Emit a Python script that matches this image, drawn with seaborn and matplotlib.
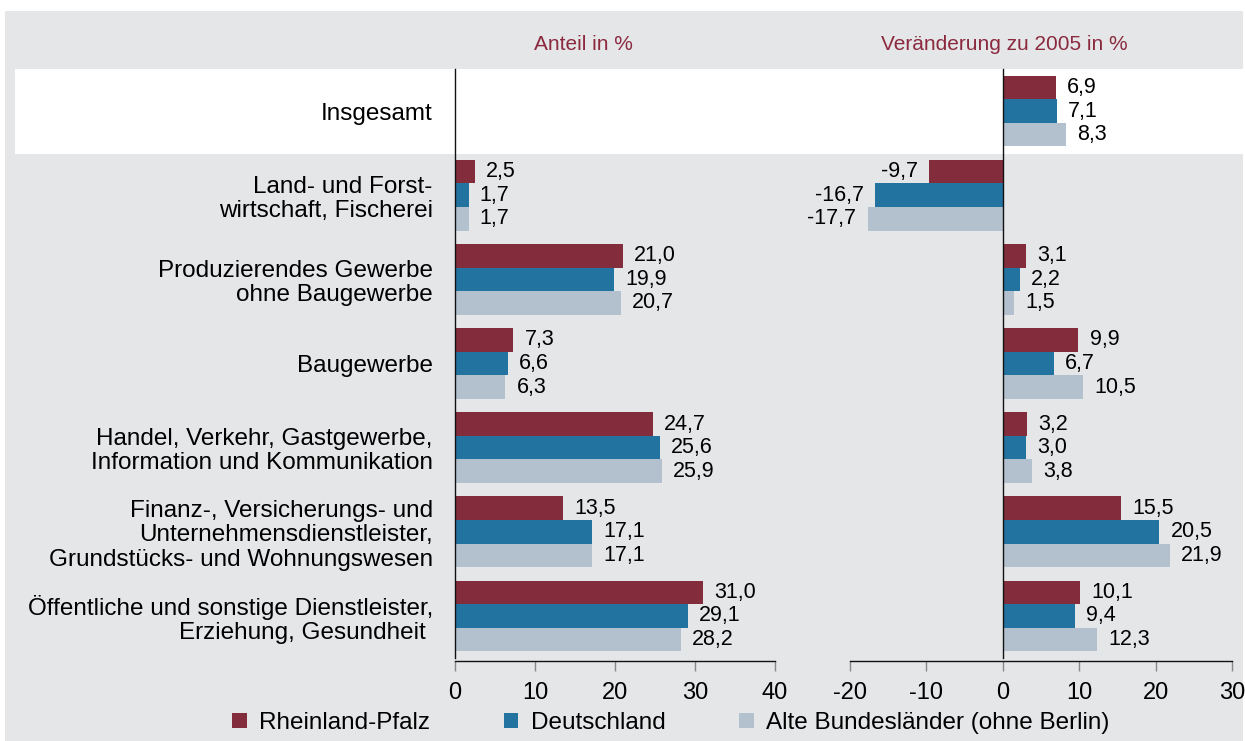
import numpy as np
import pandas as pd
import matplotlib.pyplot as plt
from matplotlib.patches import Rectangle
import seaborn as sns

# categories (rows, top to bottom)
CATEGORIES = [
    'Insgesamt',
    'Land- und Forst-\nwirtschaft, Fischerei',
    'Produzierendes Gewerbe\nohne Baugewerbe',
    'Baugewerbe',
    'Handel, Verkehr, Gastgewerbe,\nInformation und Kommunikation',
    'Finanz-, Versicherungs- und\nUnternehmensdienstleister,\nGrundstücks- und Wohnungswesen',
    'Öffentliche und sonstige Dienstleister,\nErziehung, Gesundheit ',
]
SERIES = ['Rheinland-Pfalz', 'Deutschland', 'Alte Bundesländer (ohne Berlin)']
COLORS = ['#832c3c', '#22739f', '#b3c1cf']

# Anteil in % (no bar for Insgesamt)
SHARE_RP = [np.nan, 2.5, 21.0, 7.3, 24.7, 13.5, 31.0]
SHARE_DE = [np.nan, 1.7, 19.9, 6.6, 25.6, 17.1, 29.1]
SHARE_ABL = [np.nan, 1.7, 20.7, 6.3, 25.9, 17.1, 28.2]

# Veränderung zu 2005 in %
CHANGE_RP = [6.9, -9.7, 3.1, 9.9, 3.2, 15.5, 10.1]
CHANGE_DE = [7.1, -16.7, 2.2, 6.7, 3.0, 20.5, 9.4]
CHANGE_ABL = [8.3, -17.7, 1.5, 10.5, 3.8, 21.9, 12.3]

SHARE_TICKS = [0, 10, 20, 30, 40]
CHANGE_TICKS = [-20, -10, 0, 10, 20, 30]

W, H = 1245, 741
BG = '#e5e6e8'
HEAD = '#8b2a3e'


def long_frame(rp, de, abl):
    rows = []
    for name, vals in zip(SERIES, [rp, de, abl]):
        for cat, v in zip(CATEGORIES, vals):
            rows.append({'category': cat, 'series': name, 'value': v})
    return pd.DataFrame(rows).dropna()


def fmt(v):
    return f'{v:.1f}'.replace('.', ',')


sns.set_style('white')
plt.rcParams['font.family'] = ['Liberation Sans', 'DejaVu Sans']
plt.rcParams['axes.unicode_minus'] = False
plt.rcParams['text.color'] = 'black'
plt.rcParams['xtick.color'] = 'black'
plt.rcParams['ytick.color'] = 'black'

fig = plt.figure(figsize=(W / 100, H / 100), dpi=100)
fig.patch.set_facecolor('white')
# gray background and white band behind "Insgesamt"
fig.patches.append(Rectangle((5 / W, 0), 1238 / W, 1 - 11 / H, transform=fig.transFigure,
                             facecolor=BG, edgecolor='none', zorder=-2))
fig.patches.append(Rectangle((15 / W, 1 - 154 / H), 1 - 15 / W, 85 / H, transform=fig.transFigure,
                             facecolor='white', edgecolor='none', zorder=-1))

ax1 = fig.add_axes([455 / W, 1 - 661 / H, 320 / W, 592 / H])
ax2 = fig.add_axes([850 / W, 1 - 661 / H, 382 / W, 592 / H])

share = long_frame(SHARE_RP, SHARE_DE, SHARE_ABL)
change = long_frame(CHANGE_RP, CHANGE_DE, CHANGE_ABL)

for ax, df, xlim, ticks in [(ax1, share, (0, 40), SHARE_TICKS), (ax2, change, (-20, 30), CHANGE_TICKS)]:
    sns.barplot(data=df, x='value', y='category', hue='series', order=CATEGORIES,
                hue_order=SERIES, palette=COLORS, orient='h', width=0.84,
                saturation=1, linewidth=0, ax=ax)
    ax.set_facecolor('none')
    ax.set_xlim(*xlim)
    ax.set_xticks(ticks)
    ax.set_ylim(6.5 + 3 / 84, -0.5)
    ax.set_xlabel('')
    ax.set_ylabel('')
    for c in ax.containers:
        ax.bar_label(c, labels=[fmt(v) for v in c.datavalues], padding=8, fontsize=15.5,
                     color='black')
    for s in ['top', 'right']:
        ax.spines[s].set_visible(False)
    ax.spines['left'].set_bounds(-0.5, 6.5)
    ax.spines['left'].set_color('#111111')
    ax.spines['bottom'].set_color('#111111')
    ax.spines['left'].set_linewidth(1)
    ax.spines['bottom'].set_linewidth(1)
    ax.set_yticks(np.arange(-0.5, 7, 1), minor=True)
    ax.tick_params(axis='y', which='major', length=0, pad=16, labelsize=17.5)
    ax.tick_params(axis='y', which='minor', length=8, color='#999999', width=1.2, direction='out')
    ax.tick_params(axis='x', length=7, color='#888888', width=1, direction='out',
                   labelsize=17, pad=8, bottom=True)

for lab in ax1.get_yticklabels():
    lab.set_linespacing(1.13)

ax2.spines['left'].set_position(('data', 0))
ax2.tick_params(axis='y', which='major', labelleft=False)

handles, labels = ax1.get_legend_handles_labels()
ax1.get_legend().remove()
ax2.get_legend().remove()

fig.legend(handles, labels, loc='center left', bbox_to_anchor=(232 / W, 1 - 723 / H), ncol=3,
           frameon=False, fontsize=17.5, handlelength=0.6, handleheight=0.6, handletextpad=0.5,
           columnspacing=3.05, borderpad=0, borderaxespad=0)

fig.text(583 / W, 1 - 44 / H, 'Anteil in %', color=HEAD, fontsize=15, ha='center', va='center')
fig.text(1004 / W, 1 - 44 / H, 'Veränderung zu 2005 in %', color=HEAD, fontsize=15, ha='center', va='center')

fig.savefig('out.png', dpi=100, facecolor=fig.get_facecolor())
